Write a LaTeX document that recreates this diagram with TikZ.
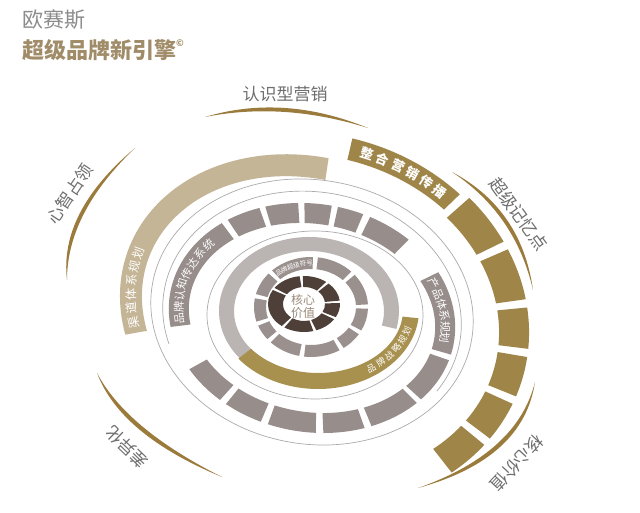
\documentclass[tikz,border=0pt]{standalone}
\usepackage{fontspec}
\setmainfont{Noto Sans CJK SC}
\usetikzlibrary{calc}
\definecolor{goldF}{HTML}{A08548}
\definecolor{tanE}{HTML}{C5B597}
\definecolor{greyD}{HTML}{978D8B}
\definecolor{greyB}{HTML}{9A908E}
\definecolor{lightC}{HTML}{BAB4B2}
\definecolor{goldC}{HTML}{A8904F}
\definecolor{darkA}{HTML}{4E3F39}
\definecolor{thinl}{HTML}{ABABAB}
\definecolor{arcgold}{HTML}{9B7B3C}
\definecolor{lbl}{HTML}{6E6E6E}
\definecolor{titlegold}{HTML}{A08C68}
\definecolor{titlegrey}{HTML}{8C8C8C}
\definecolor{coretxt}{HTML}{9B8B7B}

% band segment of an ellipse ring: color, t1, t2, a_in, b_in, a_out, b_out
\newcommand{\band}[7]{\fill[#1] (#2:#4 and #5) arc[start angle=#2, end angle=#3, x radius=#4, y radius=#5] -- (#3:#6 and #7) arc[start angle=#3, end angle=#2, x radius=#6, y radius=#7] -- cycle;}

% characters along an ellipse: center, rotation, a, b, t start, dt, style, chars
\newcommand{\ctext}[8]{%
  \begin{scope}[shift={#1}, rotate=#2]
    \foreach \ch [count=\i] in {#8} {
      \pgfmathsetmacro\myt{#5+(\i-1)*(#6)}
      \pgfmathsetmacro\mys{ifthenelse(#6>0,1,-1)}
      \pgfmathsetmacro\myr{#2+atan2(\mys*(#4)*cos(\myt), -\mys*(#3)*sin(\myt))}
      \node[#7, rotate=\myr] at (\myt:#3 and #4) {\ch};
    }
  \end{scope}}

% tapered gold arc: A, outer control, inner control, B
\newcommand{\taper}[4]{\fill[arcgold] (#1) .. controls ($(#1)!0.667!(#2)$) and ($(#4)!0.667!(#2)$) .. (#4) .. controls ($(#4)!0.667!(#3)$) and ($(#1)!0.667!(#3)$) .. (#1) -- cycle;}

\tikzset{
  thinline/.style={draw=thinl, line width=0.7pt},
  segtxt/.style={text=white, inner sep=0pt, font=\fontsize{11}{11}\selectfont},
  lbltxt/.style={text=lbl, inner sep=0pt, font=\fontsize{17}{17}\selectfont}
}

\begin{document}
\begin{tikzpicture}[x=1pt, y=1pt]
\useasboundingbox (0,0) rectangle (640,513);
\fill[white] (0,0) rectangle (640,513);

% title
\node[anchor=west, text=titlegrey, inner sep=0pt, font=\fontsize{21}{21}\selectfont] (t1) at (22,493) {欧赛斯};
\node[anchor=west, text=titlegold, inner sep=0pt, font=\fontsize{22}{22}\selectfont\bfseries] (t2) at (22,463) {超级品牌新引擎\raisebox{0.55em}{\fontsize{9}{9}\selectfont ©}};

% thin guide lines
\draw[thinline, rotate around={-10:(312,201)}] (312,201) ellipse [x radius=162, y radius=132];
\begin{scope}[shift={(312,197)}, rotate=-10]
  \draw[thinline] (-25:150 and 124) arc[start angle=-25, end angle=205, x radius=150, y radius=124];
\end{scope}
\draw[thinline] (315,198) ellipse [x radius=108, y radius=84];

% ring E (tan band)
\begin{scope}[shift={(312,195)}, rotate=160]
  \band{tanE}{-78.5}{30}{174}{137}{196}{159}
\end{scope}

% ring F (gold outer segments)
\begin{scope}[shift={(312,195)}, rotate=-15]
  \band{goldF}{59}{92}{193}{162}{215}{184}
  \foreach \p/\q in {41/56.5, 23/38.5, 8/20.5, -7/5.5, -22/-9.5, -37/-24.5}
    {\band{goldF}{\p}{\q}{189}{158}{219}{188}}
\end{scope}

% ring D (grey segments)
\begin{scope}[shift={(312,195)}, rotate=-10]
  \foreach \p/\q in {137/197, 119.5/134, 103.5/117, 90/101, 77/87.5, 55.5/74, -6/36, -32.5/-9, -57.5/-35, -77.5/-60.5, -100/-80.5, -119/-103, -141/-122}
    {\band{greyD}{\p}{\q}{124}{94}{144}{114}}
\end{scope}

% ring C (light band + gold part)
\begin{scope}[shift={(309,202)}]
  \band{lightC}{-14}{231}{75}{60}{90}{74}
\end{scope}
\begin{scope}[shift={(318,203)}]
  \band{goldC}{218}{354}{85}{63}{101}{79}
\end{scope}

% ring B (grey segments)
\begin{scope}[shift={(311,206)}]
  \foreach \p/\q in {88/133, 138/165, 170/197, 202/220, 225/258, 263/300, 305/327, 332/358, 3/40, 45/83}
    {\band{greyB}{\p}{\q}{45}{38}{57}{50}}
\end{scope}

% ring A (dark segments)
\begin{scope}[shift={(304,209)}]
  \foreach \p/\q in {-28/2, 7/47, 52/92, 97/145, 150/232, 237/285, 290/327}
    {\band{darkA}{\p}{\q}{21}{17}{36}{28}}
\end{scope}

% core text
\node[text=coretxt, align=center, inner sep=0pt, font=\fontsize{12}{13}\selectfont] (core) at (303,207) {核心\\价值};

% texts on bands
\ctext{(312,195)}{-15}{204}{173}{87}{-4.7}{segtxt, font=\fontsize{13}{13}\selectfont\bfseries}{整,合,营,销,传,播}
\ctext{(312,195)}{160}{185}{148}{26}{-5.3}{segtxt, font=\fontsize{12}{12}\selectfont}{渠,道,体,系,规,划}
\ctext{(312,195)}{-10}{134}{104}{193}{-6.3}{segtxt}{品,牌,认,知,传,达,系,统}
\ctext{(312,195)}{-10}{134}{104}{32}{-6}{segtxt}{产,品,体,系,规,划}
\ctext{(318,203)}{0}{93}{71}{305}{7.5}{segtxt, font=\fontsize{9}{9}\selectfont}{品,牌,战,略,规,划}
\ctext{(311,206)}{0}{51}{44}{129}{-7.5}{segtxt, font=\fontsize{6.5}{6.5}\selectfont}{品,牌,超,级,符,号}

% outer tapered arcs
\taper{205,396}{283.5,419.5}{283.5,411.5}{368,385}
\taper{135,365}{59,301}{67,300}{67,233}
\taper{452,341}{521.5,304}{515.5,299}{533,223}
\taper{535,131}{523.5,54}{517.5,60}{418,25}
\taper{97,140}{120.5,78}{126.5,84}{222,36}

% outer labels
\node[lbltxt] (l1) at (285,419) {认识型营销};
\node[lbltxt, rotate=56.5] (l2) at (70,319) {心智占领};
\node[lbltxt, rotate=-54] (l3) at (519,299) {超级记忆点};
\node[lbltxt, rotate=-133] (l4) at (517,50) {核心价值};
\node[lbltxt, rotate=136] (l5) at (127,66) {差异化};
\end{tikzpicture}
\end{document}
